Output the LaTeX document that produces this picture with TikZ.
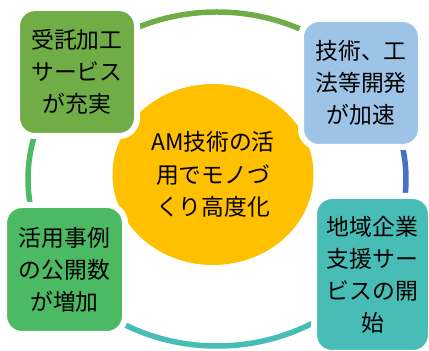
\documentclass[tikz,border=0pt]{standalone}
\usepackage{fontspec}
\setmainfont{Noto Sans CJK JP}
\usetikzlibrary{shapes.geometric}
\definecolor{gA}{HTML}{70AD47}
\definecolor{bA}{HTML}{9DC3E6}
\definecolor{bB}{HTML}{4472C4}
\definecolor{gB}{HTML}{4CB963}
\definecolor{tA}{HTML}{47BDB6}
\definecolor{yA}{HTML}{FFC000}
\begin{document}
\begin{tikzpicture}[x=1pt,y=1pt,
  box/.style={draw=white, line width=6pt, rounded corners=18pt, inner sep=0pt, align=center,
    font=\fontsize{22.8}{32}\selectfont, text=black},
  ringarc/.style={line width=5.5pt},
  hub/.style={ellipse, fill=yA, inner sep=0pt, align=center, font=\fontsize{22.8}{32.5}\selectfont, text=black}]
\useasboundingbox (0,0) rectangle (429,351);
\coordinate (rc) at (217,172);
\draw[ringarc, gA] (rc) ++(139:189 and 167) arc[start angle=139, end angle=37, x radius=189, y radius=167];
\draw[ringarc, bB] (rc) ++(37:189 and 167) arc[start angle=37, end angle=-35, x radius=189, y radius=167];
\draw[ringarc, tA] (rc) ++(-35:189 and 167) arc[start angle=-35, end angle=-146, x radius=189, y radius=167];
\draw[ringarc, gB] (rc) ++(214:189 and 167) arc[start angle=214, end angle=139, x radius=189, y radius=167];
\node[hub, minimum width=201pt, minimum height=181pt] (hubn) at (213,176.5) {AM技術の活\\用でモノづ\\くり高度化};
\node[box, fill=gA, minimum width=120pt, minimum height=128pt] (tl) at (77,279) {受託加工\\サービス\\が充実};
\node[box, fill=bA, minimum width=120pt, minimum height=128pt] (tr) at (361,268) {技術、工\\法等開発\\が加速};
\node[box, fill=gB, minimum width=121pt, minimum height=129pt] (bl) at (64.5,81.5) {活用事例\\の公開数\\が増加};
\node[box, fill=tA, minimum width=117pt, minimum height=157pt] (br) at (372.5,76.5) {地域企業\\支援サー\\ビスの開\\始};
\end{tikzpicture}
\end{document}
